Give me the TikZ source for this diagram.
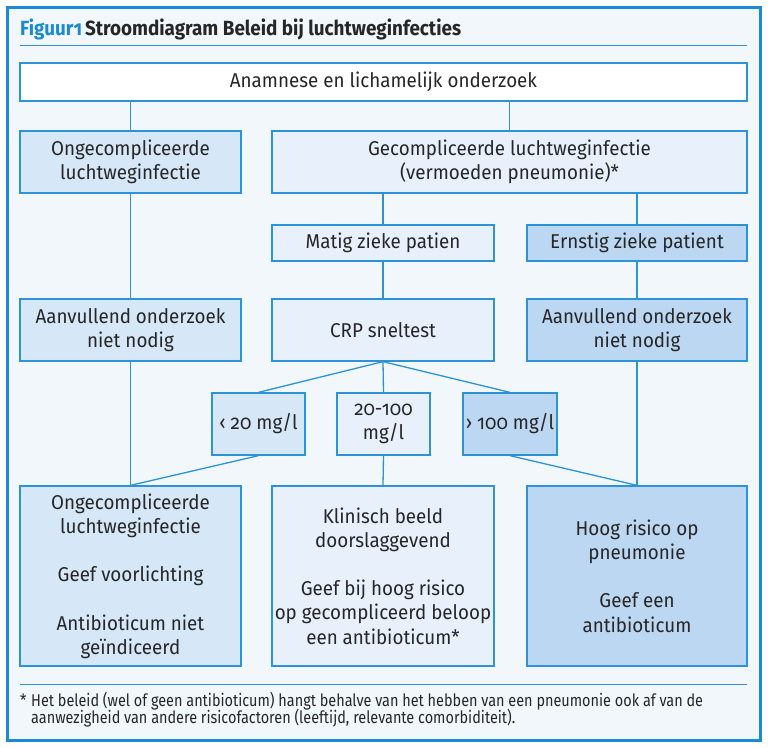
\documentclass[tikz,border=0pt]{standalone}
\usepackage{fontspec}
\setmainfont{Fira Sans}[Numbers=OldStyle,FakeStretch=0.94]
\newfontfamily\titlefont{Fira Sans}[Numbers=OldStyle,FakeStretch=0.92]
\newfontfamily\notefont{Fira Sans}[Numbers=OldStyle,FakeStretch=0.85]
\definecolor{frame}{HTML}{1A8AD4}
\definecolor{bgblue}{HTML}{F2F7FC}
\definecolor{lineblue}{HTML}{2B93D6}
\definecolor{fillA}{HTML}{D6E7F7}
\definecolor{fillB}{HTML}{E8F1FB}
\definecolor{fillC}{HTML}{BCD7F1}
\definecolor{ink}{HTML}{262626}
\begin{document}
\begin{tikzpicture}[x=1pt,y=-1pt,
  box/.style={draw=lineblue,line width=1.3pt,inner sep=0pt,align=center,text=ink,
    font=\fontsize{20}{24.2}\selectfont},
  conn/.style={draw=lineblue,line width=1.3pt}]
\useasboundingbox (0,0) rectangle (768,747);
\fill[white] (0,0) rectangle (768,747);
\draw[frame,line width=3pt,fill=bgblue] (7,7) rectangle (760,740);
% title
\node[anchor=base west,inner sep=0pt,font=\titlefont\fontsize{20.5}{24}\selectfont\bfseries] (title) at (20,35)
  {\textcolor{frame}{Figuur1}\hspace{3pt}\textcolor{ink}{Stroomdiagram Beleid bij luchtweginfecties}};
\coordinate (tl) at (20,45); \coordinate (tr) at (747,45);
\draw[lineblue,line width=1pt] (tl) -- (tr);
% boxes
\node[box,fill=white,minimum width=727pt,minimum height=38pt] (top) at (383.5,82) {Anamnese en lichamelijk onderzoek};
\node[box,fill=fillA,minimum width=221pt,minimum height=62pt] (ong) at (130.5,162) {Ongecompliceerde\\luchtweginfectie};
\node[box,fill=fillB,minimum width=475pt,minimum height=62pt] (gec) at (509.5,162) {Gecompliceerde luchtweginfectie\\(vermoeden pneumonie)*};
\node[box,fill=fillB,minimum width=222pt,minimum height=36pt] (matig) at (383,243) {Matig zieke patien};
\node[box,fill=fillC,minimum width=220pt,minimum height=36pt] (ernstig) at (637,243) {Ernstig zieke patient};
\node[box,fill=fillA,minimum width=221pt,minimum height=62pt] (aanvL) at (130.5,330) {Aanvullend onderzoek\\niet nodig};
\node[box,fill=fillB,minimum width=222pt,minimum height=62pt] (crp) at (383,330) {CRP sneltest};
\node[box,fill=fillC,minimum width=220pt,minimum height=62pt] (aanvR) at (637,330) {Aanvullend onderzoek\\niet nodig};
\node[box,fill=fillA,minimum width=93pt,minimum height=62pt] (lt) at (258.5,424) {‹ 20 mg/l};
\node[box,fill=fillB,minimum width=93pt,minimum height=62pt] (md) at (383.5,424) {20-100\\mg/l};
\node[box,fill=fillC,minimum width=94pt,minimum height=62pt] (gt) at (510,424) {› 100 mg/l};
\node[box,fill=fillA,minimum width=221pt,minimum height=180pt] (botL) at (130.5,576)
  {Ongecompliceerde\\luchtweginfectie\\[24.2pt]Geef voorlichting\\[24.2pt]Antibioticum niet\\geïndiceerd};
\node[box,fill=fillB,minimum width=222pt,minimum height=180pt] (botM) at (383,576)
  {Klinisch beeld\\doorslaggevend\\[24.2pt]Geef bij hoog risico\\op gecompliceerd beloop\\een antibioticum*};
\node[box,fill=fillC,minimum width=220pt,minimum height=180pt] (botR) at (637,576)
  {Hoog risico op\\pneumonie\\[24.2pt]Geef een\\antibioticum};
% connectors
\draw[conn] (top.south -| ong.north) -- (ong.north);
\draw[conn] (top.south -| gec.north) -- (gec.north);
\draw[conn] (gec.south -| matig.north) -- (matig.north);
\draw[conn] (gec.south -| ernstig.north) -- (ernstig.north);
\draw[conn] (ong.south) -- (aanvL.north);
\draw[conn] (matig.south) -- (crp.north);
\draw[conn] (ernstig.south) -- (aanvR.north);
\draw[conn] (crp.south) -- (lt.north);
\draw[conn] (crp.south) -- (md.north);
\draw[conn] (crp.south) -- (gt.north);
\draw[conn] (aanvL.south) -- (botL.north);
\draw[conn] (lt.south) -- (botL.north);
\draw[conn] (md.south) -- (botM.north);
\draw[conn] (gt.south) -- (botR.north);
\draw[conn] (aanvR.south) -- (botR.north);
% footnote
\coordinate (fl) at (20,684); \coordinate (fr) at (747,684);
\draw[lineblue,line width=1pt] (fl) -- (fr);
\node[anchor=base west,inner sep=0pt,text=ink,font=\notefont\fontsize{17}{17}\selectfont] (star) at (20,706) {*};
\node[anchor=base west,inner sep=0pt,text=ink,font=\notefont\fontsize{17}{17}\selectfont] (note1) at (31,706)
  {Het beleid (wel of geen antibioticum) hangt behalve van het hebben van een pneumonie ook af van de};
\node[anchor=base west,inner sep=0pt,text=ink,font=\notefont\fontsize{17}{17}\selectfont] (note2) at (31,723)
  {aanwezigheid van andere risicofactoren (leeftijd, relevante comorbiditeit).};
\end{tikzpicture}
\end{document}
